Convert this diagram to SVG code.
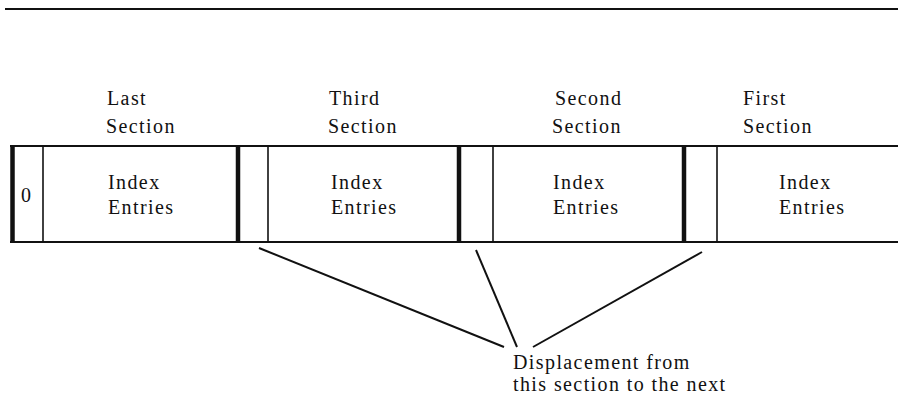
<svg xmlns="http://www.w3.org/2000/svg" width="898" height="395" viewBox="0 0 898 395">
  <style>
    .t { font-family: "Liberation Serif", "Times New Roman", serif; font-size: 20px; letter-spacing: 1.4px; fill: #111; }
    .rule { stroke: #111; fill: none; }
    .thick { stroke-width: 4.5; }
    .thin { stroke-width: 1.6; }
    .edge { stroke-width: 2.2; }
    .conn { stroke: #111; stroke-width: 2; fill: none; }
  </style>

  <!-- page rule -->
  <line class="rule" x1="5" y1="9" x2="898" y2="9" stroke-width="2.2"/>

  <!-- section headings -->
  <g id="headings">
    <text class="t" x="107" y="105">Last</text>
    <text class="t" x="106" y="133">Section</text>
    <text class="t" x="329" y="105">Third</text>
    <text class="t" x="328" y="133">Section</text>
    <text class="t" x="555" y="105">Second</text>
    <text class="t" x="552" y="133">Section</text>
    <text class="t" x="743" y="105">First</text>
    <text class="t" x="743" y="133">Section</text>
  </g>

  <!-- outer strip, open on the right -->
  <g id="strip">
    <line class="rule edge" x1="10" y1="146" x2="898" y2="146"/>
    <line class="rule edge" x1="10" y1="242" x2="898" y2="242"/>
  </g>

  <!-- terminating zero field -->
  <g id="zero-field">
    <line class="rule thick" x1="12.5" y1="145" x2="12.5" y2="243"/>
    <line class="rule thin" x1="43" y1="146" x2="43" y2="242"/>
    <text class="t" x="21" y="202">0</text>
  </g>

  <!-- last section -->
  <g id="last-section">
    <text class="t" x="108" y="189">Index</text>
    <text class="t" x="108" y="214">Entries</text>
  </g>

  <!-- displacement field before third section -->
  <g id="disp-third">
    <line class="rule thick" x1="238" y1="146" x2="238" y2="242"/>
    <line class="rule thin" x1="268" y1="146" x2="268" y2="242"/>
  </g>

  <!-- third section -->
  <g id="third-section">
    <text class="t" x="331" y="189">Index</text>
    <text class="t" x="331" y="214">Entries</text>
  </g>

  <!-- displacement field before second section -->
  <g id="disp-second">
    <line class="rule thick" x1="459" y1="146" x2="459" y2="242"/>
    <line class="rule thin" x1="493" y1="146" x2="493" y2="242"/>
  </g>

  <!-- second section -->
  <g id="second-section">
    <text class="t" x="553" y="189">Index</text>
    <text class="t" x="553" y="214">Entries</text>
  </g>

  <!-- displacement field before first section -->
  <g id="disp-first">
    <line class="rule thick" x1="684" y1="146" x2="684" y2="242"/>
    <line class="rule thin" x1="717" y1="146" x2="717" y2="242"/>
  </g>

  <!-- first section -->
  <g id="first-section">
    <text class="t" x="779" y="189">Index</text>
    <text class="t" x="779" y="214">Entries</text>
  </g>

  <!-- leader lines to the note -->
  <g id="connectors">
    <line class="conn" x1="259" y1="248" x2="504" y2="347"/>
    <line class="conn" x1="476" y1="250" x2="517" y2="347"/>
    <line class="conn" x1="702" y1="252" x2="533" y2="347"/>
  </g>

  <g id="note">
    <text class="t" x="513" y="369">Displacement from</text>
    <text class="t" x="513" y="391">this section to the next</text>
  </g>
</svg>
